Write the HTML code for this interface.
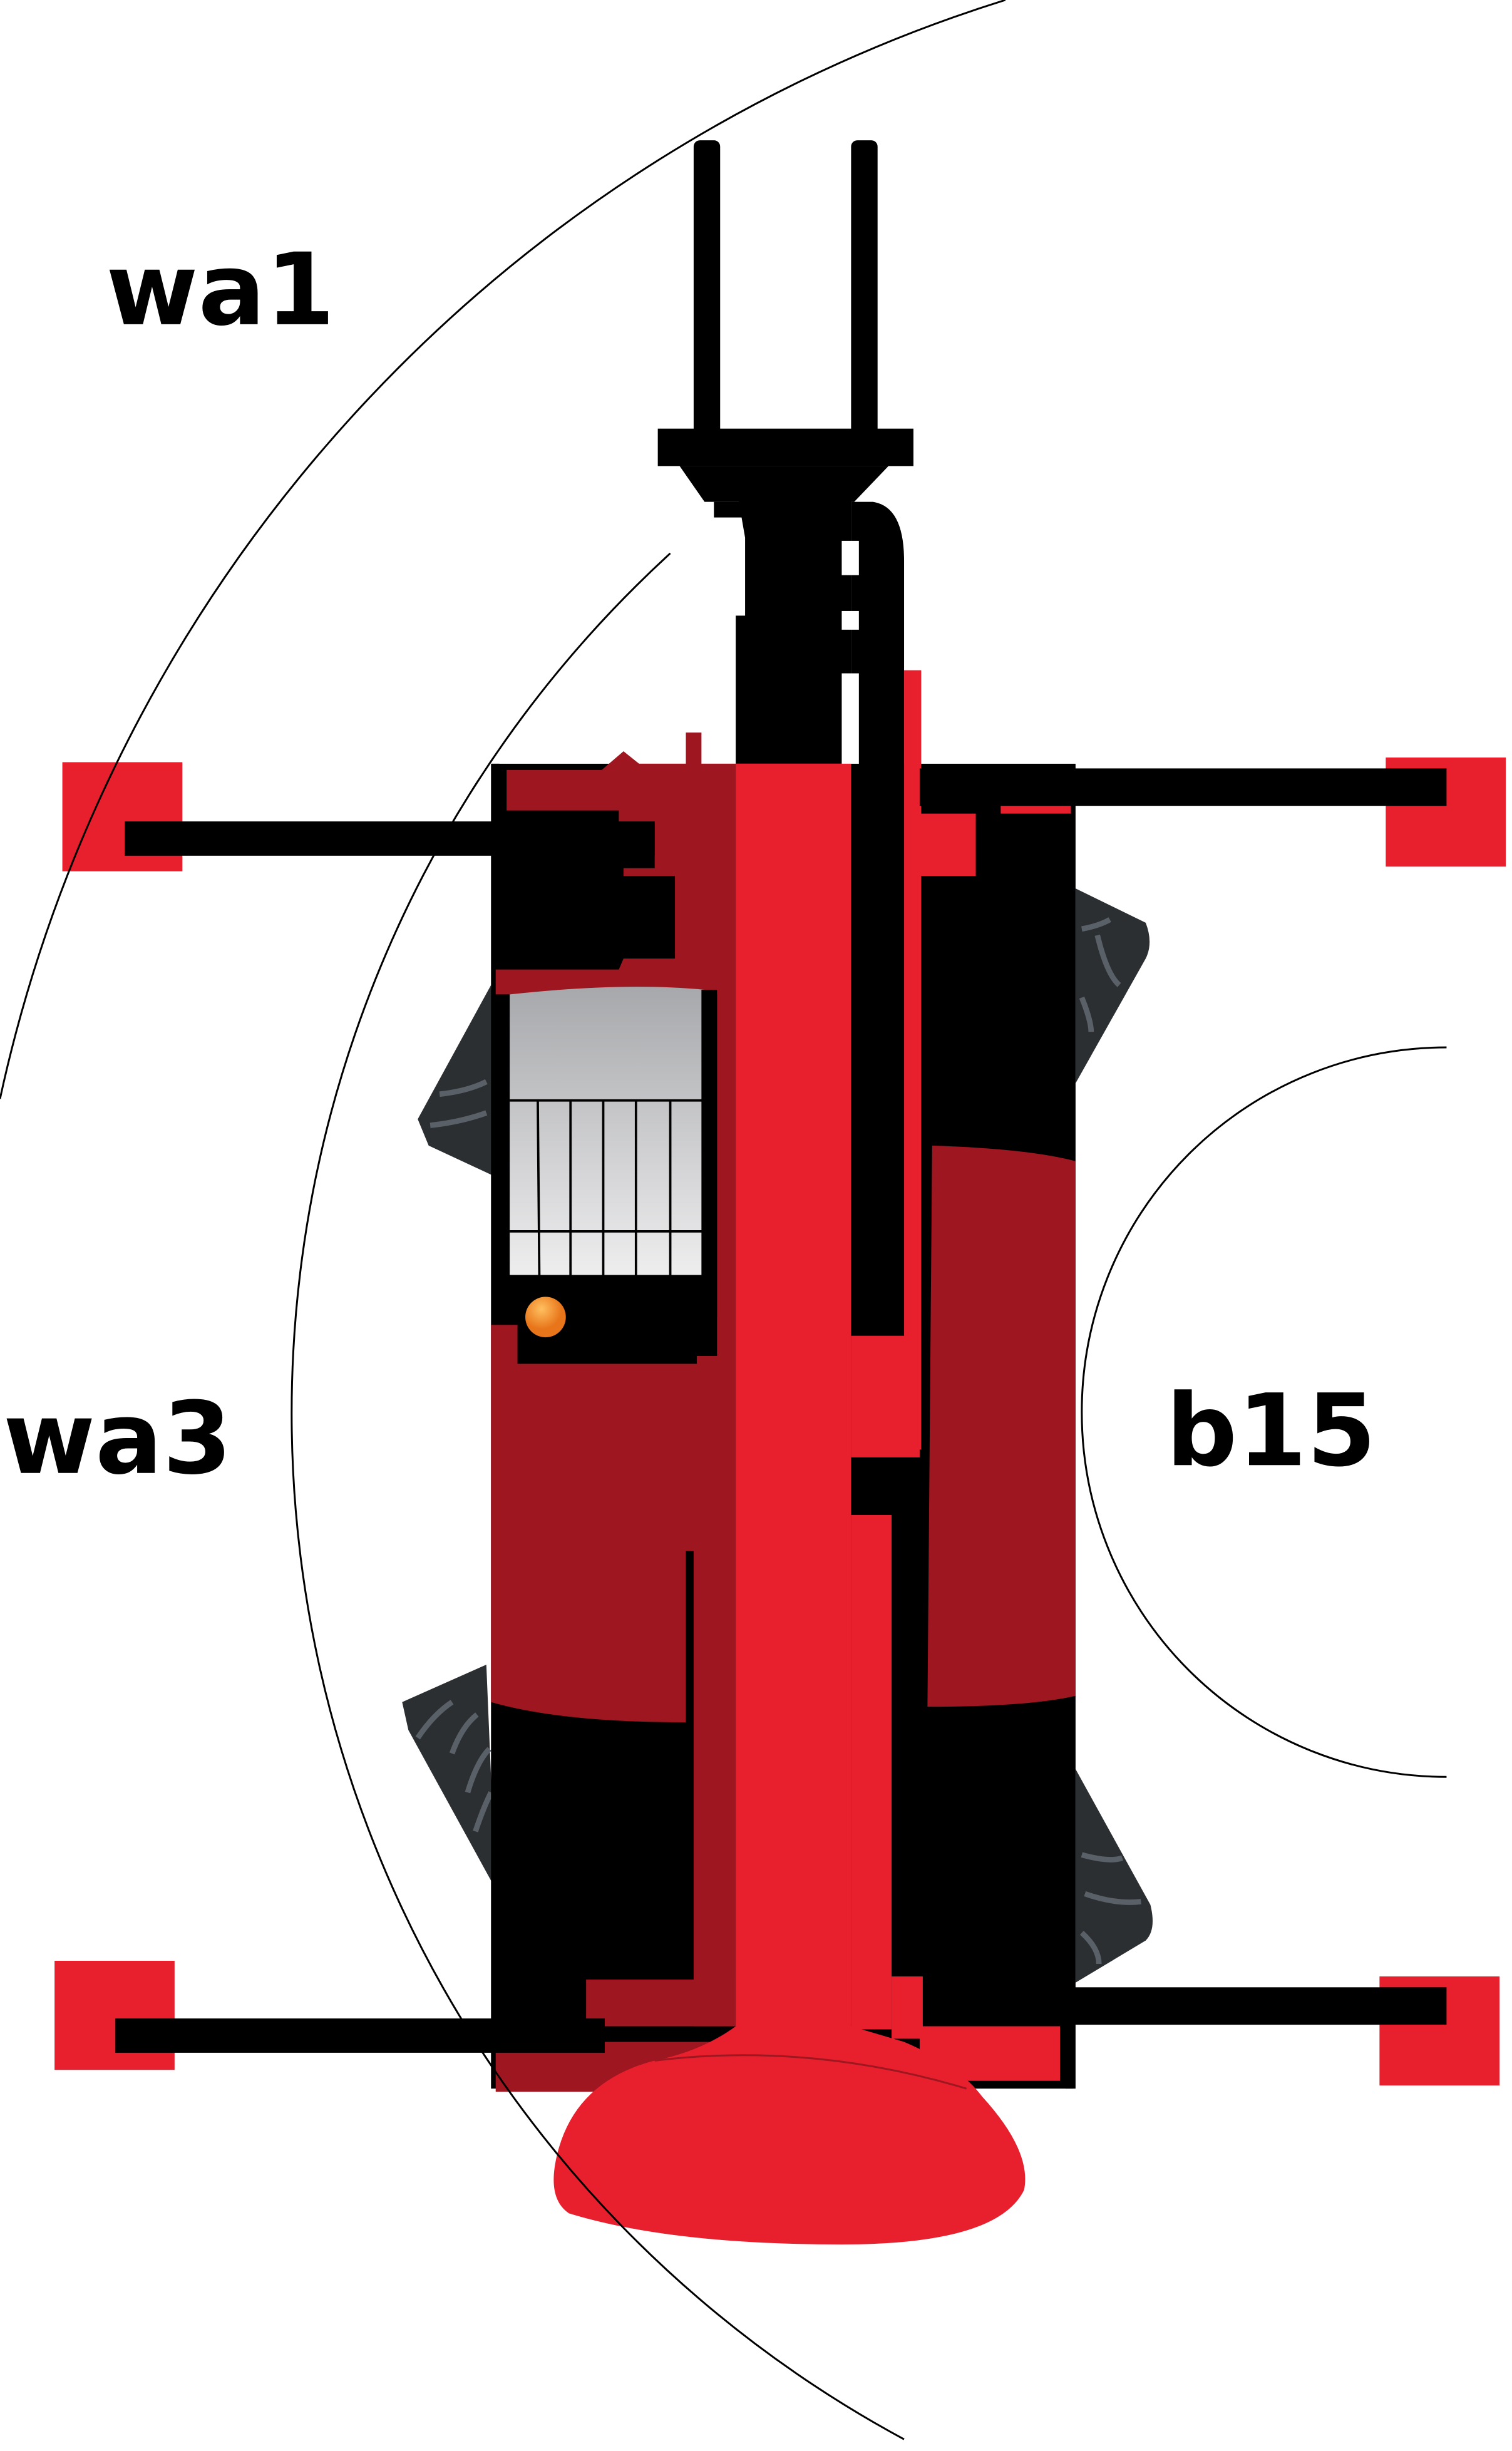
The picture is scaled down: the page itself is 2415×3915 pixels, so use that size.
<!DOCTYPE html>
<html><head><style>html,body{margin:0;padding:0;background:#fff}svg{display:block}</style></head>
<body>
<svg width="2415" height="3915" viewBox="0 0 970 1572.5" preserveAspectRatio="none" xmlns="http://www.w3.org/2000/svg">
<rect width="970" height="1573" fill="#fff"/>
<!-- tracks -->
<g fill="#2c2f32">
<path d="M268,718 L315,632 L318,755 L275,735 Z"/>
<path d="M690,570 L735,592 Q740,605 735,615 L690,695 Z"/>
<path d="M258,1092 L312,1068 L318,1212 L262,1110 Z"/>
<path d="M690,1135 L738,1222 Q742,1238 735,1245 L690,1272 Z"/>
</g>
<g fill="none" stroke="#5a6068" stroke-width="3.5">
<path d="M282,702 Q300,700 312,694"/><path d="M276,722 Q295,720 312,714"/>
<path d="M694,596 Q705,594 712,590 M704,600 Q710,625 718,632"/><path d="M694,640 Q700,655 700,662"/>
<path d="M268,1115 Q278,1100 290,1092 M290,1125 Q296,1108 306,1100 M300,1150 Q306,1130 314,1122 M305,1175 Q310,1160 315,1150"/>
<path d="M694,1190 Q712,1195 720,1192 M696,1215 Q716,1222 732,1220 M694,1240 Q705,1250 705,1260"/>
</g>
<!-- main black body -->
<rect x="315" y="490" width="375" height="850" fill="#000"/>
<!-- left dark red areas -->
<path d="M325,494 L386,494 L400,482 L410,490 L440,490 L440,470 L450,470 L450,490 L472,490 L472,1300 L445,1300 L445,995 L437,995 L437,870 L460,870 L460,638 L330,638 L318,638 L318,622 L397,622 L400,615 L433,615 L433,562 L400,562 L400,557 L420,557 L420,528 L397,528 L397,520 L325,520 Z" fill="#9e1620"/>
<path d="M315,850 L440,850 L440,1105 Q360,1105 315,1092 Z" fill="#9e1620"/>
<path d="M598,735 Q660,737 690,745 L690,1088 Q660,1095 595,1095 Z" fill="#9e1620"/>
<path d="M318,1310 L472,1310 L428,1342 L318,1342 Z" fill="#9e1620"/>
<rect x="376" y="1270" width="96" height="30" fill="#9e1620"/>
<!-- window -->
<defs><linearGradient id="g" x1="0" y1="0" x2="0" y2="1"><stop offset="0" stop-color="#a7a8ab"/><stop offset="1" stop-color="#eeeeef"/></linearGradient>
<radialGradient id="o" cx="0.4" cy="0.3"><stop offset="0" stop-color="#ffc060"/><stop offset="1" stop-color="#e8751a"/></radialGradient></defs>
<path d="M327,638 Q400,630 452,635 L452,818 L327,818 Z" fill="url(#g)"/>
<g stroke="#000" stroke-width="1.5">
<line x1="327" y1="706" x2="452" y2="706"/><line x1="327" y1="790" x2="452" y2="790"/>
<line x1="345" y1="706" x2="346" y2="818"/><line x1="366" y1="706" x2="366" y2="818"/>
<line x1="387" y1="706" x2="387" y2="818"/><line x1="408" y1="706" x2="408" y2="818"/>
<line x1="430" y1="706" x2="430" y2="818"/></g>
<rect x="450" y="635" width="10" height="210" fill="#000"/>
<rect x="332" y="845" width="115" height="30" fill="#000"/>
<circle cx="350" cy="845" r="13" fill="url(#o)"/>
<!-- top -->
<rect x="445" y="90" width="17" height="190" rx="4" fill="#000"/>
<rect x="546" y="90" width="17" height="190" rx="4" fill="#000"/>
<rect x="422" y="275" width="164" height="24" fill="#000"/>
<path d="M436,299 L570,299 L548,322 L474,322 L478,345 L478,395 L472,395 L472,490 L546,490 L546,322 L452,322 Z" fill="#000"/>
<rect x="458" y="322" width="20" height="10" fill="#000"/>
<path d="M546,322 L560,322 Q580,325 580,360 L580,857 L546,857 Z" fill="#000"/>
<rect x="540" y="347" width="11" height="22" fill="#fff"/>
<rect x="540" y="392" width="11" height="12" fill="#fff"/>
<rect x="540" y="432" width="11" height="58" fill="#fff"/>
<!-- reds -->
<rect x="580" y="430" width="11" height="500" fill="#e8202e"/>
<rect x="590" y="522" width="36" height="40" fill="#e8202e"/>
<rect x="642" y="494" width="45" height="28" fill="#e8202e"/>
<rect x="546" y="857" width="44" height="78" fill="#e8202e"/>
<rect x="546" y="972" width="26" height="330" fill="#e8202e"/>
<rect x="572" y="1268" width="20" height="40" fill="#e8202e"/>
<rect x="590" y="1300" width="90" height="35" fill="#e8202e"/>
<rect x="472" y="490" width="74" height="830" fill="#e8202e"/>
<path d="M472,1300 L546,1300 L580,1310 Q615,1325 630,1345 Q662,1380 657,1405 Q640,1440 540,1440 Q430,1440 365,1420 Q350,1410 358,1380 Q370,1335 420,1322 Q450,1316 472,1300 Z" fill="#e8202e"/>
<line x1="686" y1="1290" x2="686" y2="1340" stroke="#000" stroke-width="5"/>
<line x1="318" y1="490" x2="318" y2="520" stroke="#000" stroke-width="5"/>
<!-- arms -->
<rect x="40" y="489" width="77" height="70" fill="#e8202e"/>
<rect x="889" y="486" width="77" height="70" fill="#e8202e"/>
<rect x="35" y="1258" width="77" height="70" fill="#e8202e"/>
<rect x="885" y="1268" width="77" height="70" fill="#e8202e"/>
<rect x="80" y="527" width="340" height="22" fill="#000"/>
<rect x="590" y="493" width="338" height="24" fill="#000"/>
<rect x="74" y="1295" width="314" height="22" fill="#000"/>
<rect x="680" y="1275" width="248" height="24" fill="#000"/>
<!-- arcs -->
<g fill="none" stroke="#000" stroke-width="1.2">
<path d="M0,705 A950,950 0 0 1 645,0"/>
<path d="M430,355 A748,748 0 0 0 580,1565"/>
<path d="M928,672 A234,234 0 0 0 928,1140"/>
<path d="M420,1322 Q520,1310 620,1340" stroke="#9e1620"/>
</g>
<g font-family="DejaVu Sans, sans-serif" font-weight="bold" font-size="64" fill="#000">
<text x="68" y="208">wa1</text>
<text x="2" y="945">wa3</text>
<text x="748" y="940">b15</text>
</g>
</svg>
</body></html>
